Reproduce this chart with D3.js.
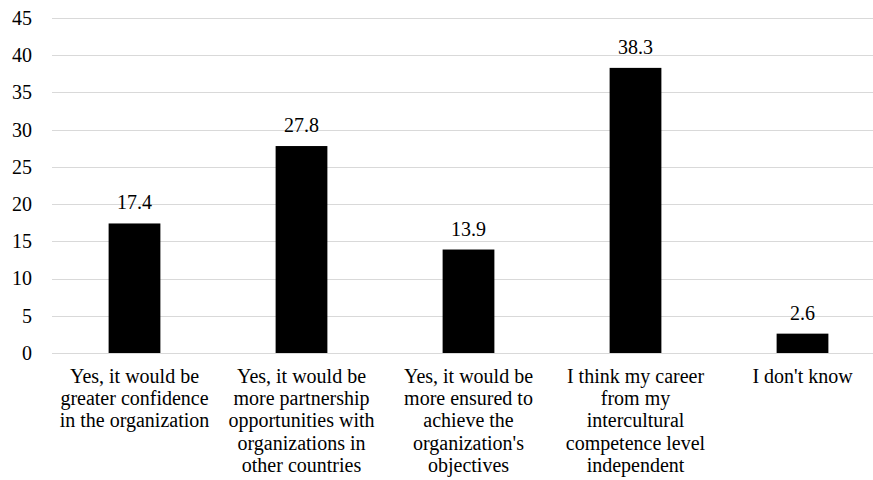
<!DOCTYPE html>
<html>
<head>
<meta charset="utf-8">
<script src="https://cdn.jsdelivr.net/npm/d3@7"></script>
<style>
  html, body { margin: 0; padding: 0; background: #fff; }
  svg { display: block; }
</style>
</head>
<body>
<svg id="chart" width="873" height="480"></svg>
<script>
// Category labels (already broken into lines) and their percentages
const categories = [
  ["Yes, it would be", "greater confidence", "in the organization"],
  ["Yes, it would be", "more partnership", "opportunities with", "organizations in", "other countries"],
  ["Yes, it would be", "more ensured to", "achieve the", "organization's", "objectives"],
  ["I think my career", "from my", "intercultural", "competence level", "independent"],
  ["I don't know"]
];
const values = [17.4, 27.8, 13.9, 38.3, 2.6];
const yTicks = [0, 5, 10, 15, 20, 25, 30, 35, 40, 45];

(function () {
  const FONT = "'Liberation Serif', Tinos, 'DejaVu Serif', 'Noto Serif', 'Times New Roman', Times, serif";
  const svg = d3.select("#chart").style("font-family", FONT);
  const W = 873;
  const plotLeft = 51, plotRight = 886, plotTop = 18, plotBottom = 353;

  const x = d3.scaleBand()
    .domain(d3.range(values.length))
    .range([plotLeft, plotRight])
    .paddingInner(0.69)
    .paddingOuter(0.345);

  const y = d3.scaleLinear().domain([0, 45]).range([plotBottom, plotTop]);

  // Horizontal gridlines
  svg.append("g")
    .selectAll("line")
    .data(yTicks)
    .join("line")
    .attr("x1", plotLeft + 1)
    .attr("x2", W)
    .attr("y1", d => Math.round(y(d)) + 0.5)
    .attr("y2", d => Math.round(y(d)) + 0.5)
    .attr("stroke", "#d9d9d9")
    .attr("stroke-width", 1.2);

  // Y-axis tick labels
  const yAxis = d3.axisLeft(y).tickValues(yTicks).tickSize(0).tickPadding(0);
  const gy = svg.append("g")
    .attr("transform", "translate(32,0)")
    .call(yAxis);
  gy.attr("font-family", null).attr("font-size", null);
  gy.select(".domain").remove();
  gy.selectAll("text")
    .style("font-family", FONT)
    .style("font-size", "20px")
    .attr("fill", "#000");

  // Bars
  svg.append("g")
    .selectAll("rect")
    .data(values)
    .join("rect")
    .attr("x", (d, i) => x(i))
    .attr("width", x.bandwidth())
    .attr("y", d => y(d))
    .attr("height", d => y(0) - y(d))
    .attr("fill", "#000");

  // Value labels above bars
  svg.append("g")
    .selectAll("text")
    .data(values)
    .join("text")
    .attr("x", (d, i) => x(i) + x.bandwidth() / 2)
    .attr("y", d => y(d) - 14)
    .attr("text-anchor", "middle")
    .style("font-family", FONT)
    .style("font-size", "20px")
    .attr("fill", "#000")
    .text(d => d.toFixed(1));

  // Multi-line category labels
  const cat = svg.append("g")
    .selectAll("text")
    .data(categories)
    .join("text")
    .attr("text-anchor", "middle")
    .style("font-family", FONT)
    .style("font-size", "20px")
    .attr("fill", "#000")
    .attr("transform", (d, i) => `translate(${x(i) + x.bandwidth() / 2},${plotBottom + 30})`);
  cat.selectAll("tspan")
    .data(d => d)
    .join("tspan")
    .attr("x", 0)
    .attr("y", (d, j) => j * 22.2)
    .text(d => d);
})();
</script>
</body>
</html>
